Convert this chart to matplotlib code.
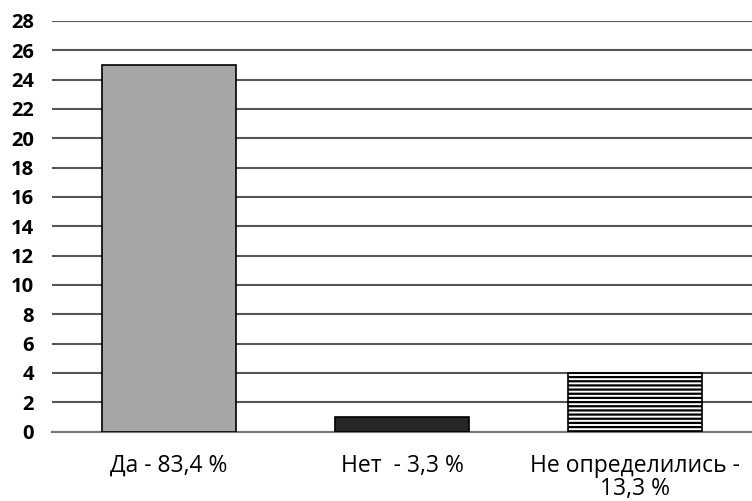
import matplotlib.pyplot as plt
import numpy as np

categories = ["Да - 83,4 %", "Нет  - 3,3 %", "Не определились -\n13,3 %"]
values = [25, 1, 4]
yticks = list(range(0, 29, 2))

plt.rcParams['font.family'] = ['Open Sans', 'DejaVu Sans']
plt.rcParams['hatch.color'] = "#222222"
plt.rcParams['hatch.linewidth'] = 1.6

fig = plt.figure(figsize=(7.52, 5.01), dpi=100)
ax = fig.add_axes([52 / 752, (501 - 431.5) / 501, 700 / 752, 410.5 / 501])

x = np.arange(len(categories))
bars = ax.bar(x, values, width=0.575, edgecolor="black", linewidth=1.2,
              color=["#a6a6a6", "#262626", "white"], zorder=3)
bars[2].set_hatch("----")

ax.set_xlim(-0.5, 2.5)
ax.set_ylim(0, 28)
ax.set_yticks(yticks)
ax.set_yticklabels([str(t) for t in yticks], fontsize=14.5, fontweight="bold")
ax.set_xticks(x)
ax.set_xticklabels(categories, fontsize=16.5, linespacing=0.95)
ax.tick_params(axis="y", length=0, pad=13)
ax.tick_params(axis="x", length=0, pad=16)

ax.yaxis.grid(True, color="#555555", linewidth=1.5, zorder=0)
for side in ["top", "right", "left"]:
    ax.spines[side].set_visible(False)
ax.spines["bottom"].set_color("#777777")
ax.spines["bottom"].set_linewidth(1.5)

fig.savefig("out.png", dpi=100)
